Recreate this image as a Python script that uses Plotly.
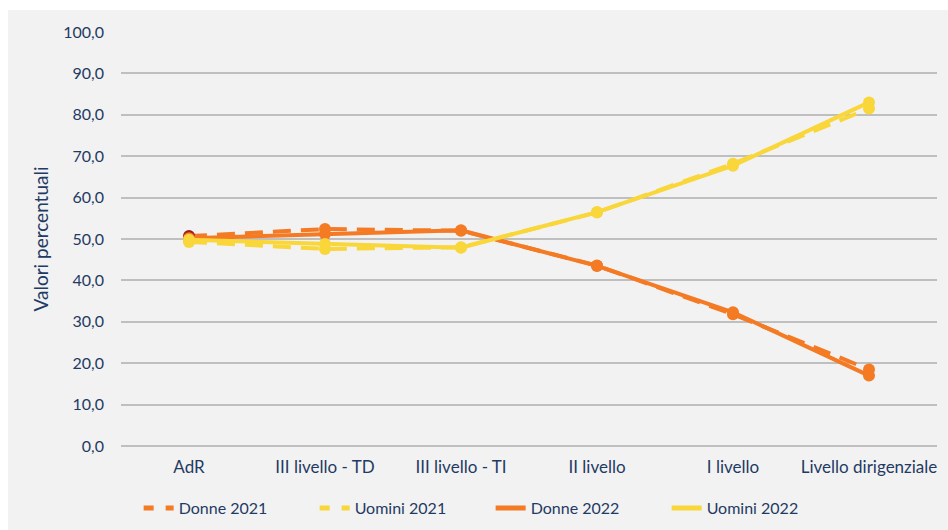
import plotly.graph_objects as go

categories = ["AdR", "III livello - TD", "III livello - TI", "II livello", "I livello", "Livello dirigenziale"]
donne_2021 = [50.7, 52.4, 52.0, 43.6, 31.8, 18.5]
uomini_2021 = [49.3, 47.6, 48.0, 56.4, 68.2, 81.5]
donne_2022 = [50.2, 51.2, 52.1, 43.5, 32.3, 17.0]
uomini_2022 = [49.8, 48.8, 47.9, 56.5, 67.7, 83.0]
y_ticks = [0, 10, 20, 30, 40, 50, 60, 70, 80, 90, 100]

ORANGE = "#F47A24"
YELLOW = "#F9D63A"
DARKRED = "#9E1B1B"
NAVY = "#1F3A63"
FONT = "Lato"

fig = go.Figure()

series = [
    ("Donne 2021", donne_2021, ORANGE, "18px,10px", [DARKRED] + [ORANGE] * 5),
    ("Uomini 2021", uomini_2021, YELLOW, "18px,10px", YELLOW),
    ("Donne 2022", donne_2022, ORANGE, "solid", ORANGE),
    ("Uomini 2022", uomini_2022, YELLOW, "solid", YELLOW),
]

for name, vals, col, dash, mcol in series:
    fig.add_trace(go.Scatter(
        x=categories, y=vals, mode="lines+markers", name=name,
        line=dict(color=col, width=4, dash=dash),
        marker=dict(color=mcol, size=12),
        showlegend=False,
    ))

for name, vals, col, dash, mcol in series:
    leg_dash = "10px,12px" if dash != "solid" else "solid"
    fig.add_trace(go.Scatter(
        x=[None], y=[None], mode="lines", name=name,
        line=dict(color=col, width=5, dash=leg_dash),
        showlegend=True,
    ))

fig.update_layout(
    width=948, height=530,
    margin=dict(l=121, r=11, t=32, b=84, autoexpand=False),
    paper_bgcolor="white",
    plot_bgcolor="#F2F2F2",
    separators=",.",
    font=dict(family=FONT, size=16, color=NAVY),
    showlegend=True,
    legend=dict(
        orientation="h", x=0.453, xanchor="center", y=-0.15, yanchor="middle",
        bgcolor="rgba(0,0,0,0)", font=dict(size=16, color=NAVY),
        entrywidth=131, entrywidthmode="pixels", traceorder="normal",
    ),
    shapes=[dict(
        type="rect", xref="paper", yref="paper",
        x0=-0.1385, x1=1.0135, y0=-0.203, y1=1.053,
        fillcolor="#F2F2F2", line=dict(width=0), layer="below",
    )],
)

fig.update_xaxes(
    type="category", range=[-0.5, 5.5], showgrid=False, showline=False,
    ticks="", ticklabelstandoff=9, tickfont=dict(size=17, color=NAVY),
)
fig.update_yaxes(
    range=[0, 100], tickvals=y_ticks, tickformat=".1f",
    showgrid=True, gridcolor="#BFBFBF", gridwidth=1.5,
    zeroline=True, zerolinecolor="#BFBFBF", zerolinewidth=1.5,
    showline=False, ticks="", ticklabelstandoff=16,
    tickfont=dict(size=16, color=NAVY),
    title=dict(text="Valori percentuali", font=dict(size=19, color=NAVY), standoff=9),
)

fig.write_html("out.html")
